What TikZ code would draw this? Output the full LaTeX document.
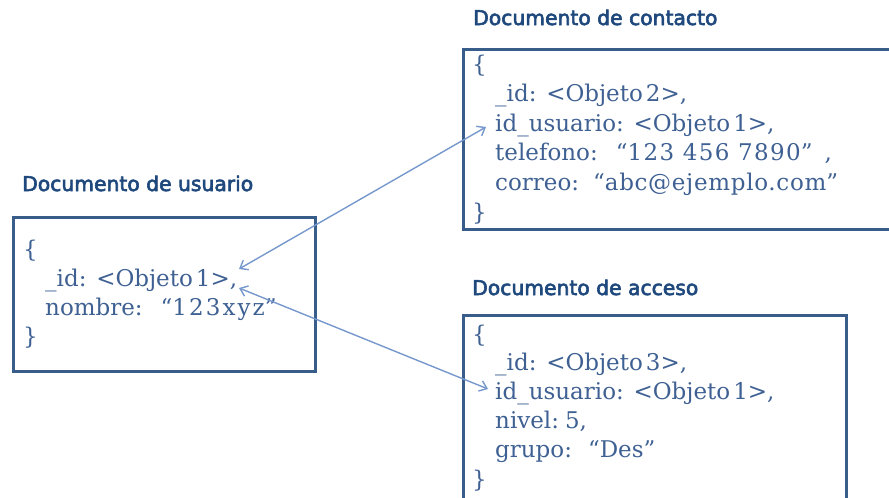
\documentclass[tikz,border=0pt]{standalone}
\usepackage{fontspec}
\usetikzlibrary{arrows.meta}
\newfontfamily\titlefont[FakeBold=3]{DejaVu Sans}
\newfontfamily\codefont{DejaVu Serif}
\newcommand\widedigits[2]{{\addfontfeature{LetterSpace=#1}#2}}
\definecolor{boxline}{RGB}{56,93,138}
\definecolor{titlecol}{RGB}{31,73,125}
\definecolor{codecol}{RGB}{62,96,146}
\definecolor{linkcol}{RGB}{118,152,204}
\tikzset{
  doc/.style={draw=boxline, line width=2.8pt, rectangle, anchor=north west, inner sep=0pt},
  title/.style={anchor=base west, inner sep=0pt, text=titlecol, font=\titlefont\fontsize{20.3}{24}\selectfont},
  code/.style={anchor=base west, inner sep=0pt, text=codecol, font=\codefont\fontsize{23}{28}\selectfont},
  link/.style={draw=linkcol, line width=1.4pt, {Straight Barb[length=7pt,width=11pt]}-{Straight Barb[length=7pt,width=11pt]}}
}
\begin{document}
\begin{tikzpicture}[x=1pt,y=-1pt]
\useasboundingbox (0,0) rectangle (889,498);
\clip (0,0) rectangle (889,498);
% boxes
\node[doc, minimum width=302pt, minimum height=154pt] (user) at (12,216) {};
\node[doc, minimum width=445pt, minimum height=180pt] (contact) at (462,48) {};
\node[doc, minimum width=383pt, minimum height=200pt] (access) at (462,314) {};
% titles
\node[title] (tuser) at (22,191) {Documento de usuario};
\node[title] (tcontact) at (473,25) {Documento de contacto};
\node[title] (taccess) at (472,295) {Documento de acceso};
% user document
\node[code] (u0) at (23,257) {\{};
\node[code] (u1) at (45,286) {\_id: <Objeto\kern3pt 1>,};
\node[code] (u2) at (45,315) {nombre:\hspace{18pt}“\widedigits{9}{123xyz}”};
\node[code] (u3) at (23,344) {\}};
% contact document
\node[code] (c0) at (472,72) {\{};
\node[code] (c1) at (495,101) {\_id: <Objeto\kern3pt 2>,};
\node[code] (c2) at (495,131) {id\_usuario: <Objeto\kern3pt 1>,};
\node[code] (c3) at (495,160) {telefono:\hspace{18pt}“\widedigits{6}{123 456 7890}”\hspace{12pt},};
\node[code] (c4) at (495,190) {correo:\hspace{14pt}“\widedigits{3}{abc@ejemplo.com}”};
\node[code] (c5) at (472,220) {\}};
% access document
\node[code] (a0) at (472,342) {\{};
\node[code] (a1) at (495,370) {\_id: <Objeto\kern3pt 3>,};
\node[code] (a2) at (495,399) {id\_usuario: <Objeto\kern3pt 1>,};
\node[code] (a3) at (495,428) {nivel:\hspace{6pt}5,};
\node[code] (a4) at (495,457) {grupo:\hspace{16pt}“Des”};
\node[code] (a5) at (472,487) {\}};
% link ends
\coordinate (pu1) at (239,269);
\coordinate (pc)  at (486,127);
\coordinate (pu2) at (239,288);
\coordinate (pa)  at (488,389);
\draw[link] (pu1) -- (pc);
\draw[link] (pu2) -- (pa);
\end{tikzpicture}
\end{document}
